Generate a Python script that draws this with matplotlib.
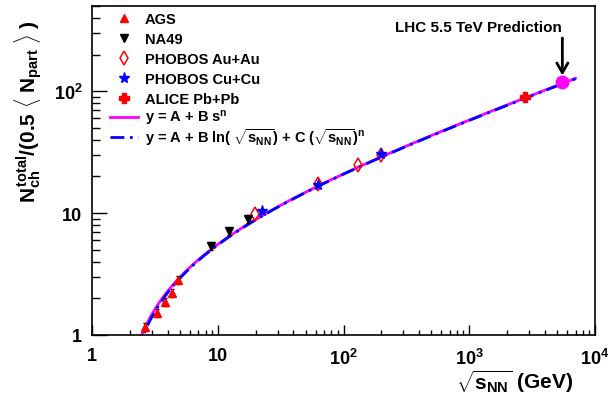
import numpy as np
import matplotlib
matplotlib.use('Agg')
import matplotlib.pyplot as plt
from matplotlib.ticker import FixedLocator, FixedFormatter, LogLocator, NullFormatter

# ---------------- data ----------------
ags_x = [2.63, 3.28, 3.84, 4.29, 4.85]
ags_y = [1.17, 1.52, 1.88, 2.22, 2.84]

na49_x = [8.77, 12.3, 17.3]
na49_y = [5.4, 7.1, 9.0]

phobos_au_x = [19.6, 62.4, 130.0, 200.0]
phobos_au_y = [9.9, 17.3, 25.0, 29.9]

phobos_cu_x = [22.4, 62.4, 200.0]
phobos_cu_y = [10.5, 16.9, 30.3]

alice_x = [2760.0]
alice_y = [90.0]

lhc_x = [5500.0]
lhc_y = [118.0]

# relative errors
ags_relerr = 0.08
na49_relerr = 0.07

# fit parameters
fit1_A, fit1_B, fit1_n = -5.5, 4.6, 0.38
fit2_A, fit2_B, fit2_C, fit2_n = -5.55, 0.05, 4.55, 0.38
fit_range = (2.3, 7000.0)

x_ticks = [1, 10, 100, 1000, 10000]
x_ticklabels = ['1', '10', r'$10^{2}$', r'$10^{3}$', r'$10^{4}$']
y_ticks = [1, 10, 100]
y_ticklabels = ['1', '10', r'$10^{2}$']

legend_labels = ['AGS', 'NA49', 'PHOBOS Au+Au', 'PHOBOS Cu+Cu', 'ALICE Pb+Pb',
                 r'y = A + B s$^{n}$',
                 r'y = A + B ln( $\sqrt{s_{NN}}$) + C ($\sqrt{s_{NN}}$)$^{n}$']

# ---------------- style ----------------
plt.rcParams.update({
    'font.family': 'Liberation Sans',
    'font.weight': 'bold',
    'mathtext.fontset': 'custom',
    'mathtext.rm': 'Liberation Sans:bold',
    'mathtext.it': 'Liberation Sans:bold',
    'mathtext.bf': 'Liberation Sans:bold',
    'mathtext.sf': 'Liberation Sans:bold',
})

W, H = 613, 402
fig = plt.figure(figsize=(W / 100, H / 100), dpi=100)
L, R, T, B = 92, 595, 7, 336
ax = fig.add_axes([L / W, 1 - B / H, (R - L) / W, (B - T) / H])
ax.set_xscale('log')
ax.set_yscale('log')
ax.set_xlim(1, 1e4)
ax.set_ylim(1, 500)

s = np.logspace(np.log10(fit_range[0]), np.log10(fit_range[1]), 500)
y1 = fit1_A + fit1_B * s ** fit1_n
y2 = fit2_A + fit2_B * np.log(s) + fit2_C * s ** fit2_n
y1 = np.where(y1 > 0, y1, np.nan)
y2 = np.where(y2 > 0, y2, np.nan)

h_fit1 = ax.plot(s, y1, color='#ff00ff', lw=2.0, zorder=2)[0]
h_fit2 = ax.plot(s, y2, color='#0000ff', lw=2.0, ls=(0, (5, 2, 1, 2)), zorder=3)[0]

e_ags = ax.errorbar(ags_x, ags_y, yerr=np.array(ags_y) * ags_relerr,
                    fmt='^', color='red', ms=5.5, ecolor='black', elinewidth=1,
                    capsize=1.5, zorder=5)
e_na49 = ax.errorbar(na49_x, na49_y, yerr=np.array(na49_y) * na49_relerr,
                     fmt='v', color='black', ms=5.5, ecolor='black', elinewidth=1,
                     capsize=1.5, zorder=5)
h_ags = e_ags[0]
h_na49 = e_na49[0]
h_au = ax.plot(phobos_au_x, phobos_au_y, 'd', mfc='none', mec='red', mew=1.1, ms=7.5,
               ls='none', zorder=5)[0]
h_cu = ax.plot(phobos_cu_x, phobos_cu_y, '*', color='blue', ms=8, ls='none',
               zorder=6)[0]
h_alice = ax.plot(alice_x, alice_y, 'P', color='red', ms=7.5, ls='none', zorder=6)[0]
ax.plot(lhc_x, lhc_y, 'o', color='#ff00ff', ms=9, ls='none', zorder=6)

ax.annotate('', xy=(lhc_x[0], lhc_y[0]), xytext=(0, 32), textcoords='offset points',
            arrowprops=dict(arrowstyle='->,head_length=0.7,head_width=0.4',
                            color='black', lw=2, shrinkA=0, shrinkB=5))
fig.text(478 / W, 1 - 28 / H, 'LHC 5.5 TeV Prediction', ha='center', va='center',
         fontsize=11, fontweight='bold')

# ticks
ax.xaxis.set_major_locator(FixedLocator(x_ticks))
ax.xaxis.set_major_formatter(FixedFormatter(x_ticklabels))
ax.yaxis.set_major_locator(FixedLocator(y_ticks))
ax.yaxis.set_major_formatter(FixedFormatter(y_ticklabels))
ax.xaxis.set_minor_locator(LogLocator(base=10, subs=np.arange(2, 10), numticks=20))
ax.yaxis.set_minor_locator(LogLocator(base=10, subs=np.arange(2, 10), numticks=20))
ax.xaxis.set_minor_formatter(NullFormatter())
ax.yaxis.set_minor_formatter(NullFormatter())
ax.tick_params(which='both', direction='in', top=False, right=False, labelsize=13)
ax.tick_params(axis='x', which='major', length=7.2, width=1, pad=9)
ax.tick_params(axis='x', which='minor', length=3.6, width=1)
ax.tick_params(axis='y', which='major', length=10.8, width=1, pad=7)
ax.tick_params(axis='y', which='minor', length=5.4, width=1)
for sp in ax.spines.values():
    sp.set_linewidth(1.2)

fig.text(573 / W, 1 - 382 / H, r'$\sqrt{s_{NN}}$ (GeV)', ha='right', va='center',
         fontsize=15, fontweight='bold')
fig.text(28 / W, 1 - 112 / H,
         r'$N_{ch}^{total}/(0.5\ \langle\;N_{part}\;\rangle\;)$',
         ha='center', va='center', rotation=90, fontsize=15, fontweight='bold')

# legend: one row each, at fixed row positions
handles = [h_ags, h_na49, h_au, h_cu, h_alice, h_fit1, h_fit2]
row_y = [20, 40, 60, 80, 100, 119, 138]
for h, lab, ry in zip(handles, legend_labels, row_y):
    fig.legend([h], [lab], loc='center left', bbox_to_anchor=(110 / W, 1 - ry / H),
               frameon=False, fontsize=10.5, borderpad=0, borderaxespad=0,
               handlelength=1.9, handletextpad=0.5)

fig.savefig('out.png', dpi=100)
